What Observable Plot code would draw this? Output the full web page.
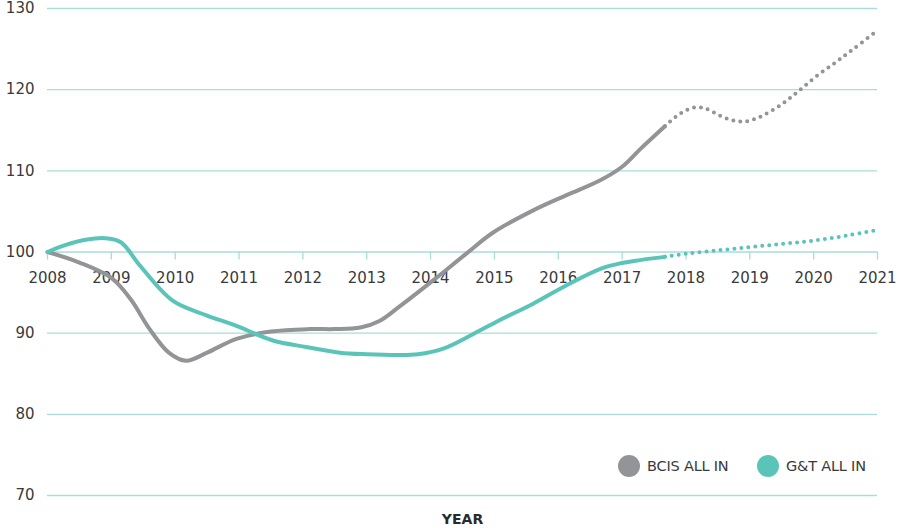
<!DOCTYPE html>
<html>
<head>
<meta charset="utf-8">
<script src="https://cdn.jsdelivr.net/npm/d3@7"></script>
<script src="https://cdn.jsdelivr.net/npm/@observablehq/plot@0.6"></script>
<style>
  html, body { margin: 0; padding: 0; background: #fff; }
  #wrap { position: relative; width: 901px; height: 530px; font-family: "DejaVu Sans", sans-serif; }
  .legend { position: absolute; top: 455px; display: flex; align-items: center; font-size: 14.5px; color: #3a3a3a; letter-spacing: -0.2px; }
  .legend .sw { width: 22px; height: 22px; border-radius: 50%; margin-right: 7px; }
</style>
</head>
<body>
<div id="wrap"></div>
<script>
// Years of the x axis
const years = [2008, 2009, 2010, 2011, 2012, 2013, 2014, 2015, 2016, 2017, 2018, 2019, 2020, 2021];
const yTicks = [70, 80, 90, 100, 110, 120, 130];

// BCIS ALL IN — actual (solid)
const bcisActualT = [2008, 2008.5, 2009, 2009.3, 2009.6, 2009.9, 2010.17, 2010.5, 2010.96, 2011.5, 2012.1, 2012.5, 2012.9, 2013.2, 2013.5, 2014.04, 2014.56, 2014.98, 2015.6, 2016.13, 2016.65, 2017.0, 2017.3, 2017.67];
const bcisActualV = [100, 98.7, 96.8, 94.2, 90.5, 87.6, 86.6, 87.6, 89.3, 90.2, 90.5, 90.5, 90.7, 91.5, 93.2, 96.5, 99.8, 102.4, 105.1, 107.0, 108.8, 110.5, 112.8, 115.5];
// BCIS ALL IN — forecast (dotted)
const bcisForecastT = [2017.67, 2017.9, 2018.12, 2018.3, 2018.53, 2018.75, 2018.95, 2019.2, 2019.5, 2019.76, 2020.05, 2020.35, 2020.62, 2021];
const bcisForecastV = [115.5, 117.0, 117.8, 117.7, 116.8, 116.2, 116.1, 116.8, 118.2, 119.8, 121.7, 123.4, 125.0, 127.3];

// G&T ALL IN — actual (solid)
const gtActualT = [2008, 2008.3, 2008.6, 2008.9, 2009.15, 2009.44, 2009.96, 2010.49, 2010.96, 2011.53, 2012.05, 2012.58, 2013, 2013.5, 2013.8, 2014.2, 2014.67, 2015.08, 2015.6, 2016.13, 2016.65, 2016.97, 2017.28, 2017.67];
const gtActualV = [100, 100.9, 101.5, 101.7, 101.2, 98.4, 94.0, 92.2, 90.9, 89.1, 88.3, 87.6, 87.4, 87.3, 87.4, 88.1, 89.9, 91.6, 93.6, 95.9, 97.9, 98.6, 99.0, 99.4];
// G&T ALL IN — forecast (dotted)
const gtForecastT = [2017.67, 2018, 2018.5, 2019, 2019.5, 2020, 2020.5, 2021];
const gtForecastV = [99.4, 99.8, 100.2, 100.6, 101.0, 101.4, 102.0, 102.7];

const series = ["BCIS ALL IN", "G&T ALL IN"];
const colors = ["#939497", "#5bc4b9"];
const gridColor = "#a9ddd6";
const textColor = "#3a3a3a";

const toPts = (t, v) => t.map((x, i) => ({x, y: v[i]}));

const chart = Plot.plot({
  width: 901,
  height: 530,
  marginTop: 8,
  marginBottom: 35,
  marginLeft: 47,
  marginRight: 24,
  style: {fontFamily: "DejaVu Sans, sans-serif", fontSize: "15px", color: textColor, background: "#fff"},
  x: {domain: [2008, 2021], axis: null},
  y: {domain: [70, 130], axis: null},
  marks: [
    Plot.gridY(yTicks, {stroke: gridColor, strokeOpacity: 1, strokeWidth: 1.3}),
    Plot.axisY(yTicks, {tickSize: 0, tickPadding: 13, label: null, fill: textColor, fontSize: 15}),
    Plot.ruleX(years, {x: d => d, y1: 100, y2: 99, stroke: gridColor, strokeWidth: 1.3}),
    Plot.text(years, {x: d => d, y: 100, dy: 26, text: d => String(d), fill: textColor, fontSize: 15}),
    Plot.line(toPts(bcisActualT, bcisActualV), {x: "x", y: "y", stroke: colors[0], strokeWidth: 4, curve: "catmull-rom"}),
    Plot.line(toPts(bcisForecastT, bcisForecastV), {x: "x", y: "y", stroke: colors[0], strokeWidth: 4, curve: "catmull-rom", strokeDasharray: "0 7", strokeLinecap: "round"}),
    Plot.line(toPts(gtActualT, gtActualV), {x: "x", y: "y", stroke: colors[1], strokeWidth: 4, curve: "catmull-rom"}),
    Plot.line(toPts(gtForecastT, gtForecastV), {x: "x", y: "y", stroke: colors[1], strokeWidth: 4, curve: "catmull-rom", strokeDasharray: "0 7", strokeLinecap: "round"}),
    Plot.text(["YEAR"], {frameAnchor: "bottom", dy: 28, text: d => d, fontWeight: "bold", fontSize: 14, fill: "#2a2a2a"})
  ]
});

const wrap = document.getElementById("wrap");
wrap.appendChild(chart);

const legendLefts = [618, 757];
series.forEach((name, i) => {
  const item = document.createElement("div");
  item.className = "legend";
  item.style.left = legendLefts[i] + "px";
  const sw = document.createElement("span");
  sw.className = "sw";
  sw.style.background = colors[i];
  const lab = document.createElement("span");
  lab.textContent = name;
  item.appendChild(sw);
  item.appendChild(lab);
  wrap.appendChild(item);
});
</script>
</body>
</html>
